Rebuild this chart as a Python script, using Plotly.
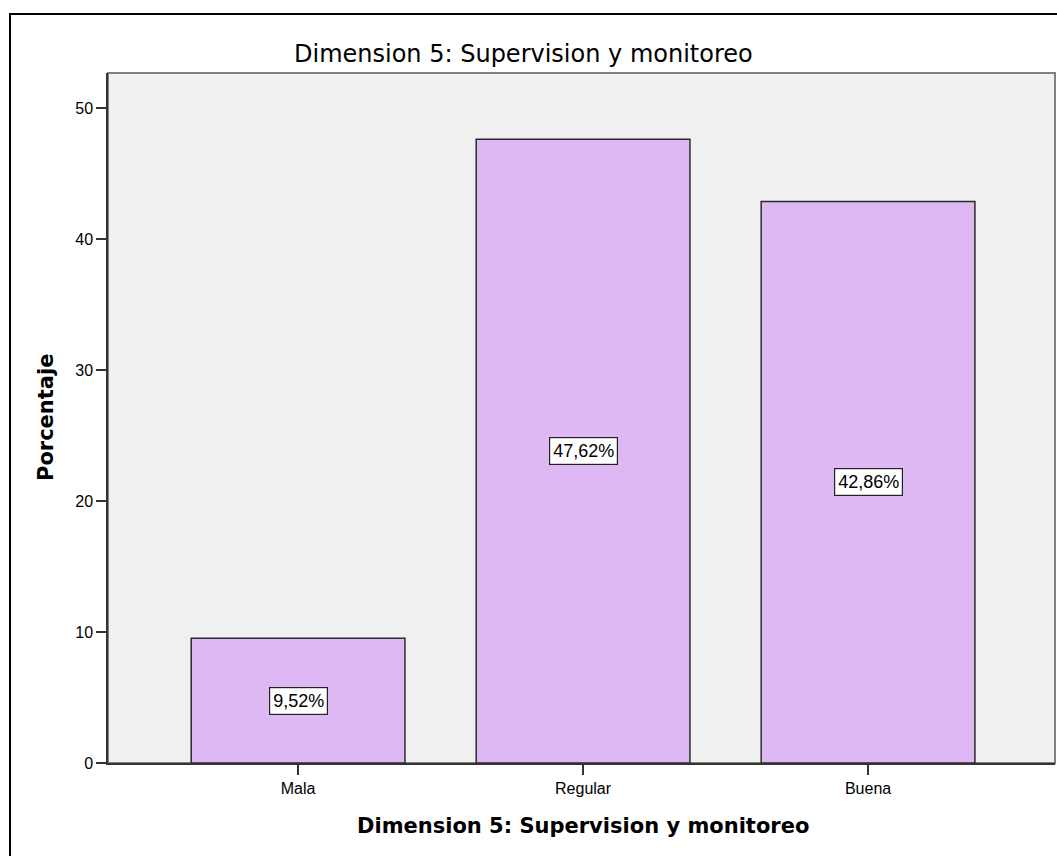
import plotly.graph_objects as go

# Category labels and percentages
categorias = ["Mala", "Regular", "Buena"]
porcentajes = [9.52, 47.62, 42.86]
y_ticks = [0, 10, 20, 30, 40, 50]

titulo = "Dimension 5: Supervision y monitoreo"
eje_x = "Dimension 5: Supervision y monitoreo"
eje_y = "Porcentaje"

FONT = "Liberation Sans, Arial, sans-serif"
TITLE_FONT = "DejaVu Sans, Verdana, sans-serif"
W, H = 1057, 856
ML, MR, MT, MB = 108, 2, 73, 93
PW, PH = W - ML - MR, H - MT - MB


def px_x(x):
    return (x - ML) / PW


def px_y(y):
    return 1 - (y - MT) / PH


fig = go.Figure()
fig.add_trace(go.Bar(
    x=categorias,
    y=porcentajes,
    width=0.75,
    marker=dict(color="#DEB8F2", line=dict(color="#2b2b2b", width=1.5)),
    hoverinfo="skip",
))

# Value labels in white boxes at half bar height
annotations = []
for c, v in zip(categorias, porcentajes):
    annotations.append(dict(
        x=c, y=v / 2, xref="x", yref="y",
        text=f"{v:.2f}%".replace(".", ","),
        showarrow=False,
        font=dict(family=FONT, size=18, color="#000"),
        bgcolor="white", bordercolor="#222", borderwidth=1.2, borderpad=3,
    ))

annotations += [
    dict(x=px_x(523), y=px_y(54), xref="paper", yref="paper",
         text=titulo, showarrow=False, xanchor="center", yanchor="middle",
         font=dict(family=TITLE_FONT, size=24, color="#000")),
    dict(x=px_x(583), y=px_y(826), xref="paper", yref="paper",
         text=f"<b>{eje_x}</b>", showarrow=False, xanchor="center", yanchor="middle",
         font=dict(family=TITLE_FONT, size=21, color="#000")),
    dict(x=px_x(46), y=px_y(418), xref="paper", yref="paper",
         text=f"<b>{eje_y}</b>", showarrow=False, textangle=-90,
         xanchor="center", yanchor="middle",
         font=dict(family=TITLE_FONT, size=21, color="#000")),
]

shapes = [
    # outer chart frame
    dict(type="rect", xref="paper", yref="paper",
         x0=px_x(10), x1=1.2, y0=-0.3, y1=px_y(14),
         line=dict(color="#000", width=2), layer="above"),
    # plot area frame (top / right)
    dict(type="rect", xref="paper", yref="paper",
         x0=0, x1=1, y0=0, y1=1,
         line=dict(color="#808080", width=2), layer="below"),
]

fig.update_layout(
    width=W, height=H,
    margin=dict(l=ML, r=MR, t=MT, b=MB),
    paper_bgcolor="white",
    plot_bgcolor="#F0F0F0",
    showlegend=False,
    annotations=annotations,
    shapes=shapes,
    font=dict(family=FONT, color="#000"),
    bargap=0.25,
)
fig.update_xaxes(
    type="category",
    range=[-0.667, 2.656],
    showline=True, linecolor="#333", linewidth=1.5,
    ticks="outside", ticklen=10, tickcolor="#333", tickwidth=1.5,
    tickfont=dict(family=FONT, size=16, color="#000"),
    showgrid=False, zeroline=False,
)
fig.update_yaxes(
    range=[0, 52.67],
    tickvals=y_ticks,
    showline=True, linecolor="#333", linewidth=1.5,
    ticks="outside", ticklen=10, tickcolor="#333", tickwidth=1.5,
    tickfont=dict(family=FONT, size=16, color="#000"),
    showgrid=False, zeroline=False,
)

fig.write_html("out.html")
